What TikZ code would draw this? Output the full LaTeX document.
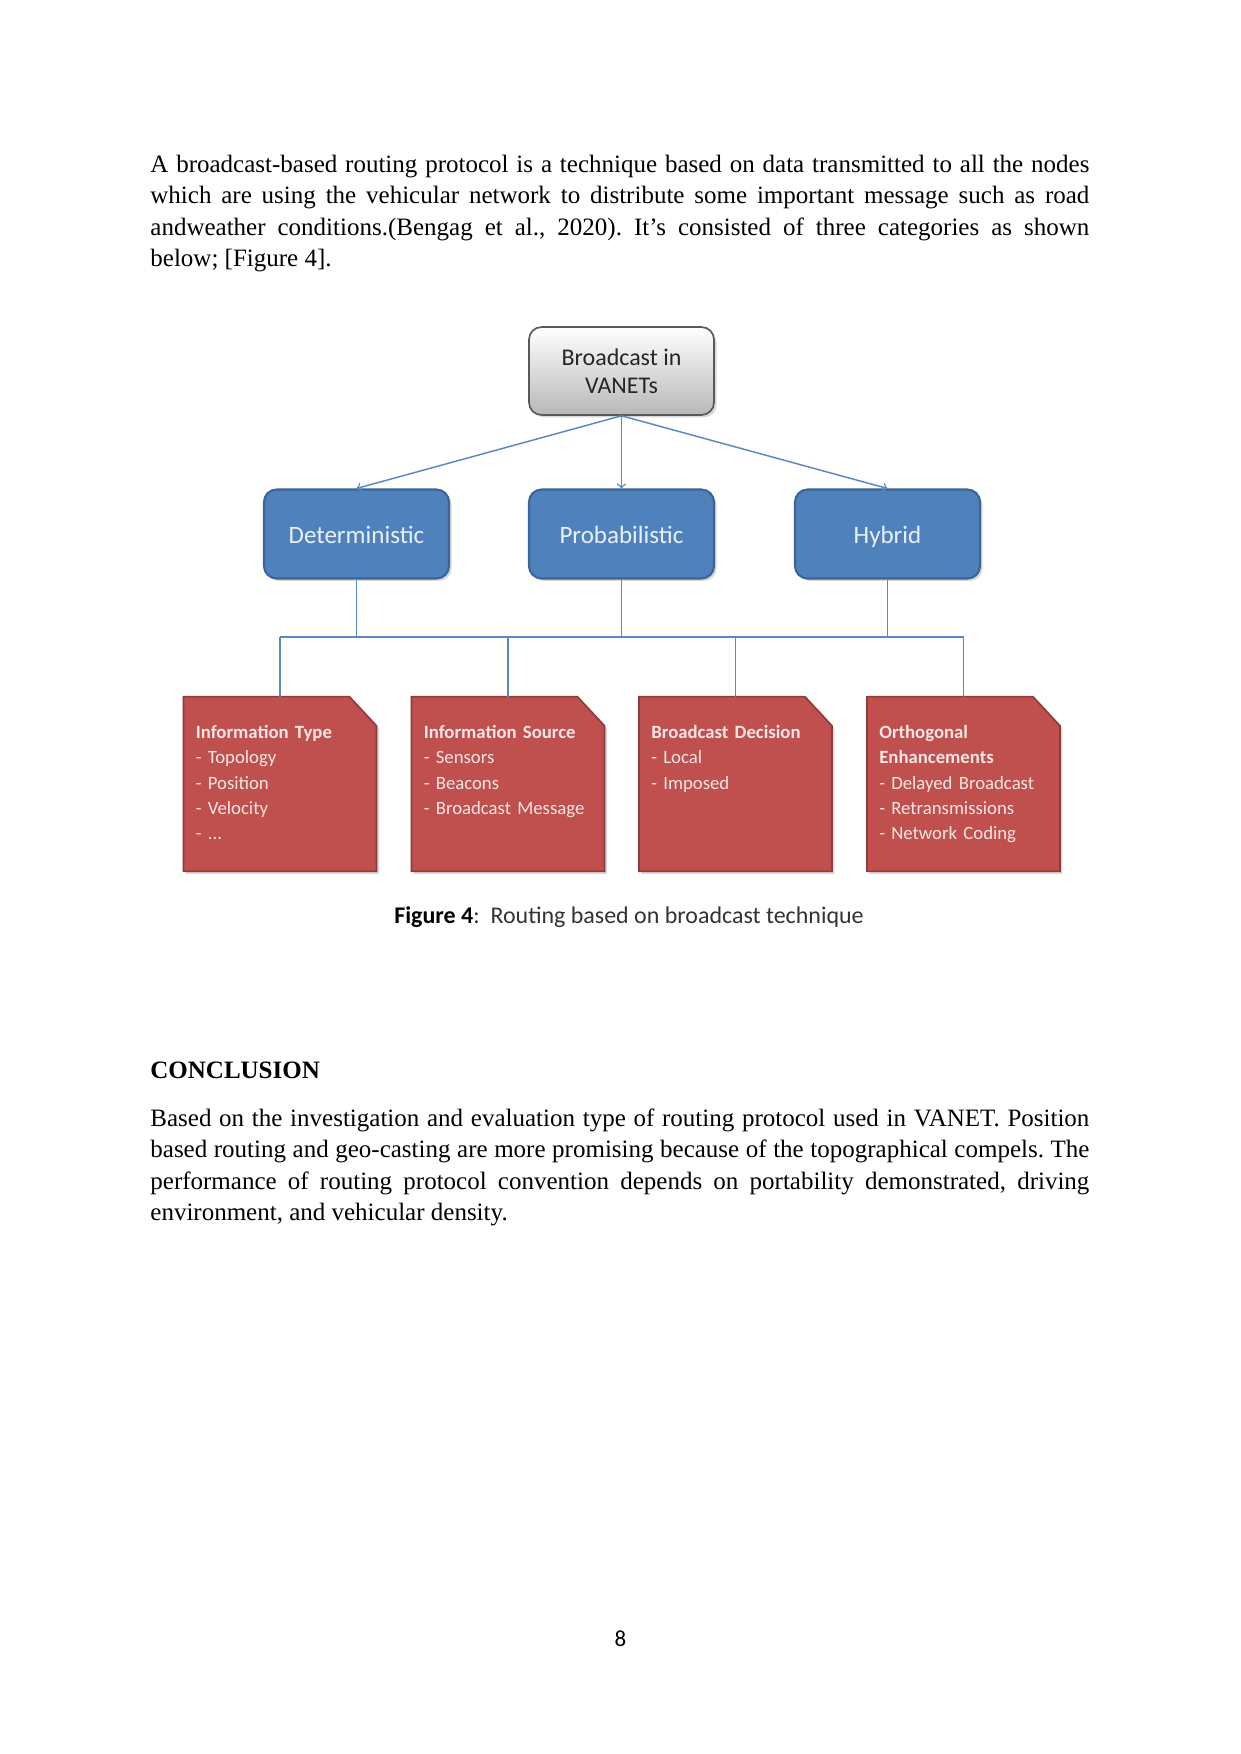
\documentclass[tikz,border=0pt]{standalone}
\usepackage{fontspec}
\setmainfont{Liberation Serif}
\newfontfamily\calibri{Carlito}
\usetikzlibrary{arrows,backgrounds,shadows}

\definecolor{catblue}{HTML}{4F81BD}
\definecolor{catedge}{HTML}{3A6596}
\definecolor{leafred}{HTML}{C0504D}
\definecolor{leafedge}{HTML}{8E3B39}
\definecolor{linkblue}{HTML}{5A88C2}
\definecolor{leaftext}{HTML}{F6E6E5}
\definecolor{cattext}{HTML}{E8F0FA}

\hyphenpenalty=10000
\exhyphenpenalty=10000
\tolerance=10000
\frenchspacing

\tikzset{
  body/.style={inner sep=0pt, text width=450.7pt, align=justify, anchor=base west,
    font=\fontsize{12}{15}\selectfont},
  boxshadow/.style={drop shadow={opacity=0.3, shadow xshift=1.2pt, shadow yshift=-1.2pt}},
  rootbox/.style={draw=black!65, line width=0.8pt, rounded corners=6pt,
    top color=white, bottom color=black!28, minimum width=88.8pt, minimum height=42.2pt,
    align=center, text=black!85, font=\calibri\fontsize{11.5}{13.6}\selectfont, boxshadow},
  catbox/.style={draw=catedge, line width=1pt, fill=catblue, rounded corners=6pt,
    minimum width=88.8pt, minimum height=42.7pt, text=cattext, text height=9.8pt, text depth=0.6pt,
    font=\calibri\fontsize{12}{14}\selectfont, boxshadow},
  leafbox/.style={inner xsep=5.7pt, inner ysep=0pt, text width=80.8pt, text height=19.8pt,
    text depth=63.7pt, align=left, text=leaftext, font=\calibri\fontsize{9}{12.2}\selectfont},
  link/.style={draw=linkblue, line width=0.7pt}
}

\begin{document}
\begin{tikzpicture}[x=0.48pt, y=-0.48pt]
\useasboundingbox (0,0) rectangle (1241,1754);

\node[body] (para1) at (150,172.7) {A broadcast-based routing protocol is a technique based on data transmitted to all the nodes\break
which are using the vehicular network to distribute some important message such as road\break
andweather conditions.(Bengag et al., 2020). It’s consisted of three categories as shown\break
below; [Figure 4].};

% diagram
\node[rootbox] (root) at (621.5,371) {Broadcast in\\VANETs};

\node[catbox] (det) at (356.5,534) {Deterministic};
\node[catbox] (prob) at (621.5,534) {Probabilistic};
\node[catbox] (hyb) at (887.5,534) {Hybrid};

\node[leafbox] (itype) at (280,784) {\textbf{Information Type}\\- Topology\\- Position\\- Velocity\\- ...};
\node[leafbox] (isrc) at (508,784) {\textbf{Information Source}\\- Sensors\\- Beacons\\- Broadcast Message};
\node[leafbox] (bdec) at (735.5,784) {\textbf{Broadcast Decision}\\- Local\\- Imposed};
\node[leafbox] (orth) at (963.5,784) {\textbf{Orthogonal}\\\textbf{Enhancements}\\- Delayed Broadcast\\- Retransmissions\\- Network Coding};

\coordinate (bus) at (621.5,637);

\foreach \n in {det,prob,hyb}
  \draw[link,->] (root.south) -- (\n.north);
\foreach \n in {det,prob,hyb}
  \draw[link] (\n.south) -- (\n.south |- bus);
\draw[link] (itype.north |- bus) -- (orth.north |- bus);
\foreach \n in {itype,isrc,bdec,orth}
  \draw[link] (\n.north |- bus) -- (\n.north);

\node[anchor=base, text=black!80, font=\calibri\fontsize{11.5}{14}\selectfont] (caption) at (629,923)
  {\textbf{\color{black}Figure 4}:\ \ Routing based on broadcast technique};

\node[anchor=base west, inner sep=0pt, font=\bfseries\fontsize{12}{15}\selectfont] (conchead) at (150,1078) {CONCLUSION};

\node[body] (para2) at (150,1126.5) {Based on the investigation and evaluation type of routing protocol used in VANET. Position\break
based routing and geo-casting are more promising because of the topographical compels. The\break
performance of routing protocol convention depends on portability demonstrated, driving\break
environment, and vehicular density.};

\node[anchor=base, font=\calibri\fontsize{11}{13}\selectfont] (pagenum) at (620.5,1646.7) {8};

\begin{scope}[on background layer]
\fill[white] (0,0) rectangle (1241,1754);
\foreach \n in {itype,isrc,bdec,orth}
  \filldraw[fill=leafred, draw=leafedge, line width=0.8pt, boxshadow]
    (\n.south west) -- (\n.north west) -- ([xshift=-13pt]\n.north east)
    -- ([yshift=-14pt]\n.north east) -- (\n.south east) -- cycle;
\end{scope}
\end{tikzpicture}
\end{document}
